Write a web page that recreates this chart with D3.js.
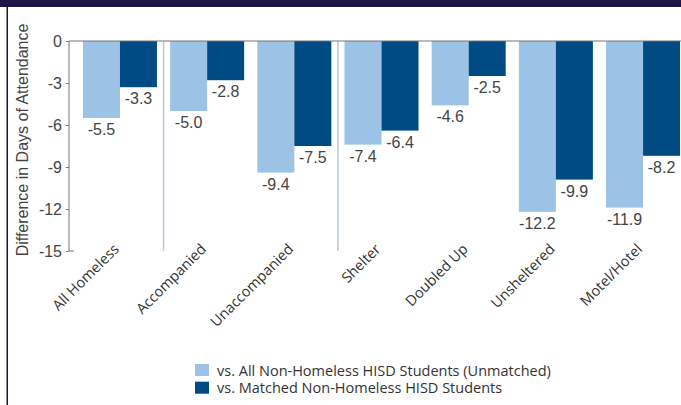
<!DOCTYPE html>
<html><head><meta charset="utf-8">
<script src="https://cdn.jsdelivr.net/npm/d3@7"></script>
<style>body{margin:0;background:#fff;} svg{display:block;}</style>
</head><body>
<svg id="c" width="681" height="405"></svg>
<script>
const categories = ["All Homeless","Accompanied","Unaccompanied","Shelter","Doubled Up","Unsheltered","Motel/Hotel"];
const seriesNames = ["vs. All Non-Homeless HISD Students (Unmatched)","vs. Matched Non-Homeless HISD Students"];
const unmatched = [-5.5,-5.0,-9.4,-7.4,-4.6,-12.2,-11.9];
const matched = [-3.3,-2.8,-7.5,-6.4,-2.5,-9.9,-8.2];
const yTicks = [0,-3,-6,-9,-12,-15];
const dividerAfter = ["All Homeless","Unaccompanied"];
const colors = ["#9cc3e5","#004b83"];

const numFont = "Liberation Sans, Arial, sans-serif";
const svg = d3.select("#c");
// frame
svg.append("rect").attr("x",0).attr("y",0).attr("width",681).attr("height",7).attr("fill","#1c1645");
svg.append("rect").attr("x",6.5).attr("y",0).attr("width",1.5).attr("height",405).attr("fill","#1c1645");

const y = d3.scaleLinear().domain([0,-15]).range([41,251]);
const x = d3.scaleBand().domain(categories).range([69,694]).paddingInner(0.151).paddingOuter(0.16);
const xs = d3.scaleBand().domain([0,1]).range([0,x.bandwidth()]);

// dividers
dividerAfter.forEach(c=>{
  const i = categories.indexOf(c);
  const xx = (x(categories[i]) + x.bandwidth() + x(categories[i+1]))/2;
  svg.append("line").attr("x1",xx).attr("x2",xx).attr("y1",y(0)).attr("y2",y(-15))
    .attr("stroke","#b8c7da").attr("stroke-width",1.5);
});

const data = categories.map((c,i)=>({c, v:[unmatched[i], matched[i]]}));
const g = svg.append("g").selectAll("g").data(data).join("g").attr("transform",d=>`translate(${x(d.c)},0)`);
g.selectAll("rect").data(d=>d.v.map((v,k)=>({v,k}))).join("rect")
  .attr("x",d=>xs(d.k)).attr("width",xs.bandwidth())
  .attr("y",y(0)).attr("height",d=>y(d.v)-y(0)).attr("fill",d=>colors[d.k]);
g.selectAll("text").data(d=>d.v.map((v,k)=>({v,k}))).join("text")
  .attr("x",d=>xs(d.k)+xs.bandwidth()/2).attr("y",d=>y(d.v)+17)
  .attr("text-anchor","middle").attr("font-family",numFont)
  .attr("font-size",16).attr("fill","#444").text(d=>d.v.toFixed(1));

// axis
const yAxis = d3.axisLeft(y).tickValues(yTicks).tickSize(3).tickPadding(4).tickFormat(d=>String(d));
const ga = svg.append("g").attr("transform","translate(69,0)").call(yAxis);
ga.select(".domain").attr("stroke","#777").attr("d",`M0,${y(0)}V${y(-15)}H5`);
ga.selectAll(".tick line").attr("stroke","#777");
ga.selectAll(".tick text").attr("font-family",numFont).attr("font-size",16).attr("fill","#444");
svg.append("line").attr("x1",69).attr("x2",681).attr("y1",y(0)).attr("y2",y(0)).attr("stroke","#777").attr("stroke-width",1.2);

// y title
svg.append("text").attr("transform",`translate(28,${(y(0)+y(-15))/2 - 6}) rotate(-90)`)
  .attr("text-anchor","middle").attr("font-family",numFont)
  .attr("font-size",16).attr("fill","#444").text("Difference in Days of Attendance");

// category labels
svg.append("g").selectAll("text").data(categories).join("text")
  .attr("transform",d=>`translate(${x(d)+x.bandwidth()/2},${250}) rotate(-45)`)
  .attr("text-anchor","end").attr("font-family","Open Sans, sans-serif")
  .attr("font-size",14.5).attr("fill","#333").text(d=>d);

// legend
const lg = svg.append("g").selectAll("g").data(seriesNames).join("g")
  .attr("transform",(d,i)=>`translate(195,${364+i*17.7})`);
lg.append("rect").attr("width",14).attr("height",12).attr("fill",(d,i)=>colors[i]);
lg.append("text").attr("x",22).attr("y",11.5).attr("font-family","Open Sans, sans-serif")
  .attr("font-size",14.5).attr("fill","#333").text(d=>d);
</script>
</body></html>
